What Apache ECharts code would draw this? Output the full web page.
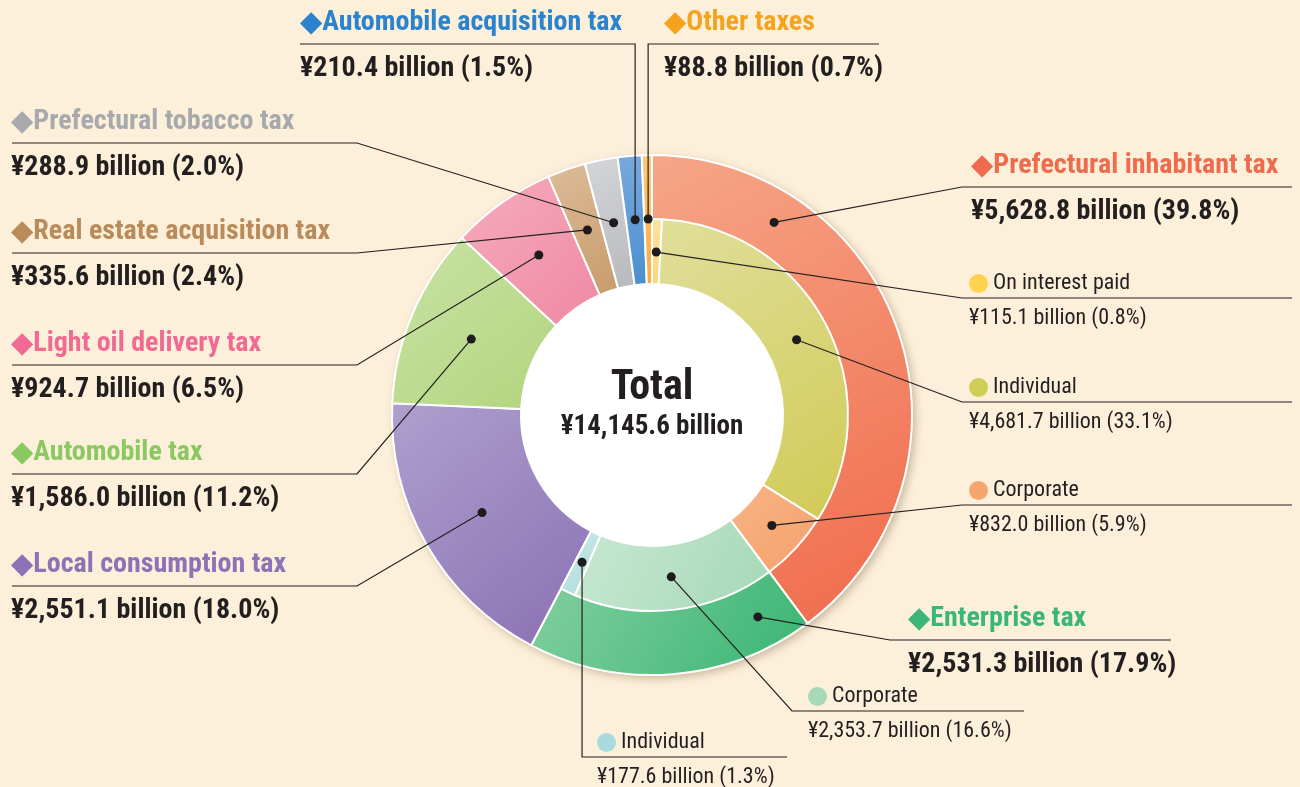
<!DOCTYPE html>
<html>
<head>
<meta charset="utf-8">
<style>
  html, body { margin: 0; padding: 0; background: #fdf0da; }
  #chart { width: 1300px; height: 787px; }
</style>
<script src="https://cdn.jsdelivr.net/npm/echarts@6/dist/echarts.min.js"></script>
</head>
<body>
<div id="chart"></div>
<script>
// prefectural tax revenue (billion yen)
const taxNames = ['Prefectural inhabitant tax', 'Enterprise tax', 'Local consumption tax', 'Automobile tax',
  'Light oil delivery tax', 'Real estate acquisition tax', 'Prefectural tobacco tax', 'Automobile acquisition tax', 'Other taxes'];
const taxValues = [5628.8, 2531.3, 2551.1, 1586.0, 924.7, 335.6, 288.9, 210.4, 88.8];
const taxShares = [39.8, 17.9, 18.0, 11.2, 6.5, 2.4, 2.0, 1.5, 0.7];

// breakdown of inhabitant tax and enterprise tax
const subNames = ['On interest paid', 'Individual', 'Corporate', 'Corporate', 'Individual'];
const subValues = [115.1, 4681.7, 832.0, 2353.7, 177.6];
const subShares = [0.8, 33.1, 5.9, 16.6, 1.3];

const totalValue = 14145.6;

// --- look ---
// Roboto is a variable font, so 'semi-condensed' gives a narrow cut like the print
const FONT = 'Roboto';
const BOLD = 'bold semi-condensed';
const REG = '400 semi-condensed';
const CX = 652, CY = 415;
const R_HOLE = 131, R_MID = 196, R_OUT = 260;

const taxColors = [
  ['#f6a688', '#f06a4b'], ['#8ad2a3', '#38b572'], ['#aea0ce', '#8a70b3'], ['#c9e3a5', '#b1d57e'],
  ['#f6abbe', '#ef89a3'], ['#dcbc99', '#c89b6b'], ['#d4d5d8', '#b8b9bd'], ['#7aaadd', '#4a8ed0'], ['#fdc97b', '#f8ab44']
];
const taxTitleColors = ['#ef6b4e', '#3bb677', '#8c72b6', '#8cc862', '#f06a94', '#b98b5a', '#a8a9ad', '#2b82cd', '#f5a31e'];
const subColors = [['#fde39d', '#fcd57a'], ['#e0df9b', '#d1ca56'], ['#f8b486', '#f5a16a'], ['#c9e8d3', '#a6d8b6'], ['#c6e7e7', '#b2dede']];
const subDotColors = ['#ffd24f', '#cfcc58', '#f6a56f', '#a7d9b8', '#a7dbde'];

// label placement: text x, line y, bend x (null = straight down/up from dot), end x
const outerLabelPos = [
  { x: 971, y: 187, bend: 962, end: 1292 },
  { x: 908, y: 640, bend: 890, end: 1171 },
  { x: 11, y: 586, bend: 357, end: 12 },
  { x: 11, y: 474, bend: 357, end: 12 },
  { x: 11, y: 365, bend: 357, end: 12 },
  { x: 11, y: 253, bend: 357, end: 12 },
  { x: 11, y: 143, bend: 357, end: 12 },
  { x: 300, y: 44, bend: null, end: 300 },
  { x: 664, y: 44, bend: null, end: 879 }
];
const innerLabelPos = [
  { x: 969, y: 298, bend: 962, end: 1292 },
  { x: 969, y: 402, bend: 962, end: 1292 },
  { x: 969, y: 505, bend: 962, end: 1292 },
  { x: 808, y: 711, bend: 792, end: 1024 },
  { x: 597, y: 757, bend: null, end: 787 }
];
// vertical nudge of the two-line text block against its line
const OUTER_SHIFT = 2;
const INNER_SHIFT = 3;
// where the dot sits inside each slice (radius px, fraction of slice angle)
const outerDotR = [228, 228, 196, 196, 196, 196, 196, 196, 196];
const outerDotFrac = [0.226, 0.141, 0.5, 0.5, 0.5, 0.5, 0.5, 0.5, 0.5];
const innerDotR = 163;

function grad(c) {
  return { type: 'linear', x: 0, y: 0, x2: 1, y2: 1, colorStops: [{ offset: 0, color: c[0] }, { offset: 1, color: c[1] }] };
}
function fmt(v) {
  return v.toLocaleString('en-US', { minimumFractionDigits: 1, maximumFractionDigits: 1 });
}
function cumStarts(arr) {
  const out = [];
  let s = 0;
  arr.forEach(function (v) { out.push(s); s += v; });
  return out;
}

const outerStart = cumStarts(taxValues);
const innerStart = cumStarts(subValues);
const outerDotAngle = taxValues.map(function (v, i) { return outerStart[i] + v * outerDotFrac[i]; });
const innerDotAngle = subValues.map(function (v, i) { return innerStart[i] + v / 2; });
const innerRest = totalValue - subValues.reduce(function (a, b) { return a + b; }, 0);

function toPixel(r, a) {
  const t = a / totalValue * Math.PI * 2;
  return [CX + r * Math.sin(t), CY - r * Math.cos(t)];
}

const myChart = echarts.init(document.getElementById('chart'));

// coloured rings
const outerData = taxNames.map(function (name, i) {
  return { name: name, value: taxValues[i], itemStyle: { color: grad(taxColors[i]) } };
});
const innerData = subNames.map(function (name, i) {
  return { name: name, value: subValues[i], itemStyle: { color: grad(subColors[i]) } };
});
innerData.push({ name: 'rest', value: innerRest, itemStyle: { color: 'rgba(0,0,0,0)', borderWidth: 0 } });

// same slices again, see-through, only to carry labels and leader lines above the rings
const outerLabelData = taxNames.map(function (name, i) {
  return {
    name: name,
    value: taxValues[i],
    label: {
      formatter: '{d|◆}{t|' + name + '}\n{v|¥' + fmt(taxValues[i]) + ' billion (' + taxShares[i].toFixed(1) + '%)}',
      rich: {
        d: { color: taxTitleColors[i], fontSize: 29, fontFamily: 'DejaVu Sans', lineHeight: 46 },
        t: { color: taxTitleColors[i], fontSize: 28, fontWeight: BOLD, fontFamily: FONT, lineHeight: 46 },
        v: { color: '#231f20', fontSize: 28, fontWeight: BOLD, fontFamily: FONT, lineHeight: 46 }
      }
    }
  };
});
const innerLabelData = subNames.map(function (name, i) {
  return {
    name: name,
    value: subValues[i],
    label: {
      formatter: '{c|}{s| ' + name + '}\n{w|¥' + fmt(subValues[i]) + ' billion (' + subShares[i].toFixed(1) + '%)}',
      rich: {
        c: { width: 19, height: 19, borderRadius: 10, backgroundColor: subDotColors[i] },
        s: { color: '#231f20', fontSize: 22, fontWeight: REG, fontFamily: FONT, lineHeight: 35 },
        w: { color: '#231f20', fontSize: 22, fontWeight: REG, fontFamily: FONT, lineHeight: 35 }
      }
    }
  };
});
innerLabelData.push({ name: 'rest', value: innerRest, label: { show: false }, labelLine: { show: false } });

function makeLayout(posList, shift, dotFn) {
  return function (params) {
    const pos = posList[params.dataIndex];
    if (!pos) return {};
    const dot = dotFn(params.dataIndex);
    const bx = pos.bend == null ? dot[0] : pos.bend;
    return {
      x: pos.x,
      y: pos.y + shift,
      align: 'left',
      verticalAlign: 'middle',
      labelLinePoints: [dot, [bx, pos.y], [pos.end, pos.y]]
    };
  };
}

const dotData = [];
taxValues.forEach(function (v, i) { dotData.push([outerDotR[i], outerDotAngle[i]]); });
subValues.forEach(function (v, i) { dotData.push([innerDotR, innerDotAngle[i]]); });

const lineStyle = { color: '#231f20', width: 1.2 };
const clear = { color: 'rgba(0,0,0,0)', borderWidth: 0 };

const option = {
  backgroundColor: '#fdf0da',
  animation: false,
  polar: { center: [CX, CY], radius: R_OUT },
  angleAxis: { type: 'value', min: 0, max: totalValue, startAngle: 90, clockwise: true, show: false, splitLine: { show: false } },
  radiusAxis: { type: 'value', min: 0, max: R_OUT, show: false, splitLine: { show: false } },
  series: [
    {
      // soft shadow under the whole ring
      type: 'pie',
      name: 'shadow',
      center: [CX, CY],
      radius: [0, R_OUT],
      silent: true,
      z: 0,
      data: [{ value: 1, itemStyle: { color: '#fdf0da', shadowBlur: 10, shadowOffsetX: 3, shadowOffsetY: 3, shadowColor: 'rgba(90,60,30,0.35)' } }],
      label: { show: false },
      labelLine: { show: false }
    },
    {
      type: 'pie',
      name: 'centre',
      center: [CX, CY],
      radius: [0, R_HOLE],
      silent: true,
      z: 1,
      data: [{ value: 1, itemStyle: { color: '#ffffff' } }],
      label: {
        position: 'center',
        formatter: '{a|Total}\n{b|¥14,145.6 billion}',
        padding: [0, 0, 20, 0],
        rich: {
          a: { fontSize: 42, fontWeight: BOLD, color: '#231f20', fontFamily: FONT, lineHeight: 44 },
          b: { fontSize: 27, fontWeight: BOLD, color: '#231f20', fontFamily: FONT, lineHeight: 34 }
        }
      },
      labelLine: { show: false }
    },
    {
      type: 'pie',
      name: 'taxes',
      center: [CX, CY],
      radius: [R_HOLE, R_OUT],
      startAngle: 90,
      clockwise: true,
      silent: true,
      z: 2,
      itemStyle: { borderColor: '#ffffff', borderWidth: 2 },
      label: { show: false },
      labelLine: { show: false },
      data: outerData
    },
    {
      type: 'pie',
      name: 'breakdown',
      center: [CX, CY],
      radius: [R_HOLE, R_MID],
      startAngle: 90,
      clockwise: true,
      silent: true,
      z: 3,
      itemStyle: { borderColor: '#ffffff', borderWidth: 2 },
      label: { show: false },
      labelLine: { show: false },
      data: innerData
    },
    {
      type: 'pie',
      name: 'taxes labels',
      center: [CX, CY],
      radius: [R_HOLE, R_OUT],
      startAngle: 90,
      clockwise: true,
      silent: true,
      avoidLabelOverlap: false,
      z: 5,
      itemStyle: clear,
      label: { show: true, position: 'outside' },
      labelLine: { show: true, smooth: false, lineStyle: lineStyle },
      labelLayout: makeLayout(outerLabelPos, OUTER_SHIFT, function (i) { return toPixel(outerDotR[i], outerDotAngle[i]); }),
      data: outerLabelData
    },
    {
      type: 'pie',
      name: 'breakdown labels',
      center: [CX, CY],
      radius: [R_HOLE, R_MID],
      startAngle: 90,
      clockwise: true,
      silent: true,
      avoidLabelOverlap: false,
      z: 5,
      itemStyle: clear,
      label: { show: true, position: 'outside' },
      labelLine: { show: true, smooth: false, lineStyle: lineStyle },
      labelLayout: makeLayout(innerLabelPos, INNER_SHIFT, function (i) { return toPixel(innerDotR, innerDotAngle[i]); }),
      data: innerLabelData
    },
    {
      type: 'scatter',
      coordinateSystem: 'polar',
      silent: true,
      z: 10,
      symbolSize: 9,
      itemStyle: { color: '#1e1b1c', opacity: 1 },
      data: dotData
    }
  ]
};

myChart.setOption(option);
window.addEventListener('resize', function () {
  myChart.resize();
});
</script>
</body>
</html>
